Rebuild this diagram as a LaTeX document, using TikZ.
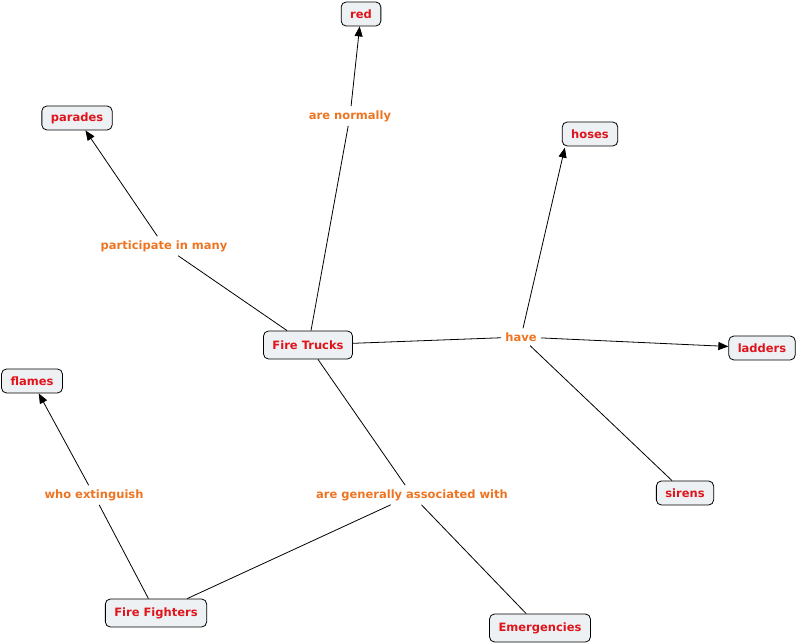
\documentclass[tikz,border=0pt]{standalone}
\usepackage{fontspec}
\setmainfont{DejaVu Sans}
\usetikzlibrary{arrows.meta}
\definecolor{cred}{HTML}{E0141C}
\definecolor{corange}{HTML}{EE7422}
\definecolor{cfill}{HTML}{EDF1F3}
\tikzset{
  concept/.style={draw=black, line width=0.8pt, rounded corners=5pt, fill=cfill, text=cred,
    font=\fontsize{11.5}{13}\selectfont\bfseries, inner xsep=9pt, inner ysep=5pt, minimum height=24pt},
  linklabel/.style={text=corange, font=\fontsize{11.5}{13}\selectfont\bfseries, inner sep=4pt},
  conn/.style={draw=black, line width=0.8pt},
  arr/.style={conn, -{Triangle[length=10pt,width=8pt]}}
}
\begin{document}
\begin{tikzpicture}[x=1pt,y=-1pt]
\useasboundingbox (0,0) rectangle (797,644);
\node[concept] (red) at (361,14) {red};
\node[concept] (parades) at (77,118) {parades};
\node[concept] (hoses) at (590,134) {hoses};
\node[concept, minimum height=28pt] (ft) at (308,345) {Fire Trucks};
\node[concept] (ladders) at (762,348) {ladders};
\node[concept] (flames) at (32,381) {flames};
\node[concept] (sirens) at (685,493) {sirens};
\node[concept, minimum height=28pt] (ff) at (156,613) {Fire Fighters};
\node[concept, minimum height=28pt] (em) at (540,628) {Emergencies};
\coordinate (hosesaim) at (568,134);

\node[linklabel] (normally) at (350,116) {are normally};
\node[linklabel] (part) at (164,246) {participate in many};
\node[linklabel] (have) at (521,337) {have};
\node[linklabel] (who) at (94,495) {who extinguish};
\node[linklabel] (assoc) at (412,495) {are generally associated with};

\draw[conn] (ft.north) ++(3,0) -- (normally);
\draw[arr] (normally) -- (red);
\draw[conn] (ft) -- (part);
\draw[arr] (part) -- (parades);
\draw[conn] (ft) -- (have);
\draw[arr, shorten >=14pt] (have) -- (hosesaim);
\draw[arr] (have) -- (ladders);
\draw[conn] (sirens) -- (have);
\draw[conn] (ff) -- (who);
\draw[arr] (who) -- (flames);
\draw[conn] (ft) -- (assoc);
\draw[conn] (ff) -- (assoc);
\draw[conn] (assoc) -- (em);
\end{tikzpicture}
\end{document}
